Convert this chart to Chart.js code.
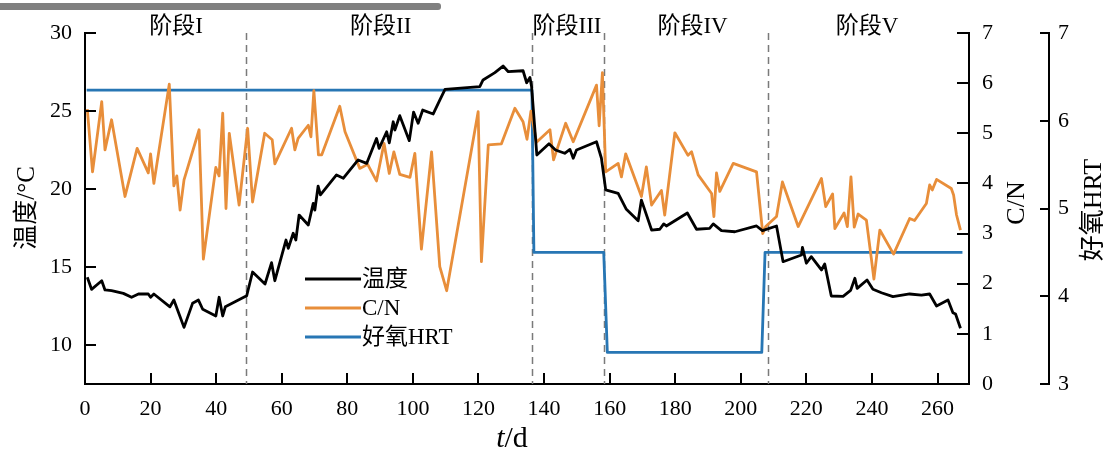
<!DOCTYPE html>
<html>
<head>
<meta charset="utf-8">
<script src="https://cdn.jsdelivr.net/npm/chart.js@4.4.0/dist/chart.umd.min.js"></script>
<style>
html,body{margin:0;padding:0;background:#fff;}
#wrap{width:1114px;height:455px;position:relative;}
</style>
</head>
<body>
<div id="wrap"><canvas id="c" width="1114" height="455"></canvas></div>
<script>
// ---------------- data ----------------
const tempDays = [0.7,2.0,5.1,6.1,8.1,11.7,14.2,16.3,19.3,20.0,21.0,25.9,27.1,28.8,30.2,32.8,34.6,35.9,39.9,40.9,42.0,42.8,49.3,51.1,54.9,56.9,57.9,61.3,62.0,63.5,64.3,65.3,68.1,69.6,70.1,71.1,71.8,76.7,78.8,83.3,85.9,88.9,89.7,92.0,92.8,94.0,94.5,96.0,98.9,100.2,101.6,103.0,106.2,108.2,109.8,120.4,121.4,125.0,127.5,129.1,133.6,134.7,135.7,136.2,137.8,141.5,143.5,146.3,147.9,148.9,149.9,156.0,157.5,158.8,162.6,165.1,168.7,169.7,172.8,175.3,176.5,177.3,179.4,183.7,186.5,190.5,191.6,194.1,198.2,204.8,206.6,210.9,212.9,218.5,218.8,220.0,221.5,224.6,225.6,227.6,231.2,233.5,234.8,235.5,238.5,240.3,242.9,246.4,251.5,255.1,257.6,259.7,263.2,264.7,265.5,267.0];
const tempValues = [14.34,13.57,14.12,13.53,13.48,13.31,13.06,13.27,13.27,13.06,13.27,12.45,12.88,11.92,11.13,12.67,12.88,12.29,11.86,13.06,11.86,12.45,13.15,14.68,13.91,15.28,14.12,16.73,16.2,17.16,16.73,18.33,17.69,19.08,18.65,20.19,19.62,20.9,20.69,21.86,21.64,23.24,22.6,23.67,22.96,24.31,23.78,24.7,23.1,24.93,24.21,25.06,24.81,25.7,26.39,26.56,26.99,27.46,27.88,27.52,27.58,26.81,27.15,26.56,22.18,22.9,22.5,22.29,22.54,21.97,22.5,23.03,21.97,19.94,19.72,18.7,17.97,19.29,17.37,17.42,17.76,17.63,17.9,18.46,17.42,17.48,17.76,17.33,17.26,17.63,17.33,17.63,15.34,15.77,16.26,15.24,15.66,14.81,15.19,13.14,13.12,13.5,14.28,13.63,14.17,13.57,13.35,13.1,13.27,13.2,13.27,12.5,12.88,12.07,11.99,11.07];

const cnDays = [0.7,2.3,5.1,6.1,8.1,12.2,15.9,19.3,20.0,21.0,25.7,27.1,28.0,29.0,30.2,34.8,36.1,39.9,40.9,42.0,43.0,44.0,47.0,49.6,51.1,54.8,57.1,57.9,63.0,64.0,65.0,68.1,68.9,69.8,71.2,72.2,77.7,79.3,83.8,86.2,88.9,91.2,92.8,94.2,96.0,99.1,100.6,102.6,105.7,108.2,110.3,119.9,120.9,123.0,127.0,131.1,133.6,134.8,136.0,137.7,141.8,142.9,146.6,148.9,156.0,156.8,157.8,158.8,162.6,163.6,164.9,169.7,171.2,172.8,175.8,176.8,179.9,183.9,185.0,187.0,191.1,191.8,192.6,193.6,197.7,204.8,206.7,207.6,210.9,212.7,217.5,224.6,225.9,228.0,228.7,231.5,232.5,233.6,234.6,235.8,238.3,239.8,240.6,242.4,246.6,251.5,253.0,256.6,257.6,258.4,259.7,264.2,264.9,265.8,267.0];
const cnValues = [5.48,4.23,5.63,4.67,5.27,3.74,4.7,4.21,4.59,4.0,5.98,3.95,4.15,3.47,4.07,5.07,2.49,4.32,4.15,5.4,3.5,5.0,3.57,5.1,3.63,5.0,4.87,4.39,5.1,4.67,4.9,5.16,4.93,5.85,4.57,4.57,5.54,5.03,4.3,4.38,4.05,4.8,4.2,4.63,4.18,4.12,4.6,2.69,4.63,2.34,1.86,5.43,2.44,4.77,4.79,5.5,5.23,4.88,5.44,4.82,5.07,4.47,5.2,4.83,5.96,5.15,6.21,4.23,4.4,4.13,4.59,3.74,4.33,3.57,3.86,3.37,5.01,4.56,4.63,4.17,3.8,3.34,4.21,3.84,4.4,4.23,3.0,3.14,3.34,4.03,3.14,4.1,3.54,3.79,3.1,3.41,3.14,4.13,3.13,3.39,3.27,2.51,2.09,3.07,2.59,3.3,3.26,3.6,3.97,3.87,4.08,3.9,3.77,3.37,3.07];

const hrtDays = [0.5,136.3,136.9,158.2,159.3,206.4,207.4,267.6];
const hrtValues = [6.35,6.35,4.5,4.5,3.36,3.36,4.5,4.5];

const xTicks = [0,20,40,60,80,100,120,140,160,180,200,220,240,260];
const tempTicks = [10,15,20,25,30];
const cnTicks = [0,1,2,3,4,5,6,7];
const hrtTicks = [3,4,5,6,7];

const stageBoundaries = [49.2,136.3,158.2,208.3];
const stageLabels = ['阶段I','阶段II','阶段III','阶段IV','阶段V'];
const stageCenters = [27.8,90.2,147.0,185.3,238.5];

const seriesLabels = ['温度','C/N','好氧HRT'];
const seriesColors = ['#000000','#E88E3A','#2776B4'];

// ---------------- drawing ----------------
const FONT = "'Liberation Serif', 'Noto Sans CJK SC', serif";
const pts = (xs, ys) => xs.map((x, i) => ({x: x, y: ys[i]}));
const setTicks = arr => s => { s.ticks = arr.map(v => ({value: v})); };

function vtext(ctx, txt, x, y, font) {
  ctx.save();
  ctx.translate(x, y);
  ctx.rotate(-Math.PI / 2);
  ctx.font = font;
  ctx.textAlign = 'center';
  ctx.textBaseline = 'middle';
  ctx.fillStyle = '#000';
  ctx.fillText(txt, 0, 0);
  ctx.restore();
}

const deco = {
  id: 'deco',
  beforeDatasetsDraw(chart) {
    const {ctx, chartArea: a, scales} = chart;
    ctx.save();
    ctx.strokeStyle = '#7a7a7a';
    ctx.lineWidth = 1.5;
    ctx.setLineDash([7, 5]);
    stageBoundaries.forEach(d => {
      const x = Math.round(scales.x.getPixelForValue(d)) + 0.5;
      ctx.beginPath();
      ctx.moveTo(x, a.top);
      ctx.lineTo(x, a.bottom);
      ctx.stroke();
    });
    ctx.restore();
  },
  afterDraw(chart) {
    const {ctx, chartArea: a, scales} = chart;
    ctx.save();
    // cropped grey bar at top of the picture
    ctx.fillStyle = '#808080';
    ctx.beginPath();
    ctx.roundRect(-10, 3, 451, 7, 3);
    ctx.fill();

    // inward tick marks
    ctx.strokeStyle = '#000';
    ctx.lineWidth = 2;
    ctx.setLineDash([]);
    const sx = scales.x, sy = scales.y, scn = scales.cn, shrt = scales.hrt;
    sx.ticks.forEach(t => {
      const x = Math.round(sx.getPixelForValue(t.value));
      ctx.beginPath(); ctx.moveTo(x, a.bottom); ctx.lineTo(x, a.bottom - 11); ctx.stroke();
    });
    sy.ticks.forEach(t => {
      const y = Math.round(sy.getPixelForValue(t.value));
      ctx.beginPath(); ctx.moveTo(a.left, y); ctx.lineTo(a.left + 11, y); ctx.stroke();
    });
    scn.ticks.forEach(t => {
      const y = Math.round(scn.getPixelForValue(t.value));
      ctx.beginPath(); ctx.moveTo(a.right, y); ctx.lineTo(a.right - 12, y); ctx.stroke();
    });
    shrt.ticks.forEach(t => {
      const y = Math.round(shrt.getPixelForValue(t.value));
      ctx.beginPath(); ctx.moveTo(shrt.left, y); ctx.lineTo(shrt.left - 9, y); ctx.stroke();
    });

    // stage labels
    ctx.fillStyle = '#000';
    ctx.font = '23px ' + FONT;
    ctx.textAlign = 'center';
    ctx.textBaseline = 'middle';
    stageLabels.forEach((s, i) => {
      ctx.fillText(s, sx.getPixelForValue(stageCenters[i]), a.top - 6);
    });

    // axis titles
    vtext(ctx, '温度/°C', 27, 208, '25px ' + FONT);
    vtext(ctx, 'C/N', 1017, 203, '26px ' + FONT);
    vtext(ctx, '好氧HRT', 1094, 210, '26px ' + FONT);

    // x title  t/d  (italic t)
    const fi = 'italic 30px ' + FONT, fn = '30px ' + FONT;
    ctx.font = fi; const wt = ctx.measureText('t').width;
    ctx.font = fn; const wr = ctx.measureText('/d').width;
    const x0 = 512 - (wt + wr) / 2;
    ctx.textAlign = 'left';
    ctx.textBaseline = 'middle';
    ctx.font = fi; ctx.fillText('t', x0, 439);
    ctx.font = fn; ctx.fillText('/d', x0 + wt, 439);

    // legend
    const ly = [279, 308, 337];
    ctx.font = '23px ' + FONT;
    ctx.textBaseline = 'middle';
    chart.data.datasets.forEach((ds, i) => {
      ctx.strokeStyle = ds.borderColor;
      ctx.lineWidth = 2.8;
      ctx.beginPath(); ctx.moveTo(305, ly[i]); ctx.lineTo(361, ly[i]); ctx.stroke();
      ctx.fillStyle = '#000';
      ctx.fillText(ds.label, 362, ly[i] + 1);
    });
    ctx.restore();
  }
};

const tickFont = {family: FONT, size: 22};
const baseAxis = {
  grid: {display: false, drawTicks: false},
  border: {display: true, color: '#000', width: 2},
};

new Chart(document.getElementById('c'), {
  type: 'line',
  data: {
    datasets: [
      {label: seriesLabels[0], data: pts(tempDays, tempValues), yAxisID: 'y', borderColor: seriesColors[0], borderWidth: 2.8, order: 0},
      {label: seriesLabels[1], data: pts(cnDays, cnValues), yAxisID: 'cn', borderColor: seriesColors[1], borderWidth: 2.8, order: 1},
      {label: seriesLabels[2], data: pts(hrtDays, hrtValues), yAxisID: 'hrt', borderColor: seriesColors[2], borderWidth: 2.8, order: 2}
    ]
  },
  options: {
    responsive: false,
    animation: false,
    layout: {padding: {top: 33, left: 0, right: 0, bottom: 0}},
    elements: {point: {radius: 0}, line: {tension: 0, borderJoinStyle: 'round'}},
    plugins: {legend: {display: false}, tooltip: {enabled: false}},
    scales: {
      x: Object.assign({}, baseAxis, {
        type: 'linear', position: 'bottom', min: 0, max: 269.6,
        afterBuildTicks: setTicks(xTicks),
        afterFit: s => { s.height = 71; },
        ticks: {font: tickFont, color: '#000', padding: 12, maxRotation: 0, autoSkip: false}
      }),
      y: Object.assign({}, baseAxis, {
        type: 'linear', position: 'left', min: 7.5, max: 30,
        afterBuildTicks: setTicks(tempTicks),
        afterFit: s => { s.width = 85; },
        ticks: {font: tickFont, color: '#000', padding: 13, autoSkip: false}
      }),
      cn: Object.assign({}, baseAxis, {
        type: 'linear', position: 'right', min: 0, max: 7,
        afterBuildTicks: setTicks(cnTicks),
        afterFit: s => { s.width = 80; },
        ticks: {font: tickFont, color: '#000', padding: 13, autoSkip: false}
      }),
      hrt: Object.assign({}, baseAxis, {
        type: 'linear', position: 'right', min: 3, max: 7,
        afterBuildTicks: setTicks(hrtTicks),
        afterFit: s => { s.width = 65; },
        ticks: {font: tickFont, color: '#000', padding: 9, autoSkip: false}
      })
    }
  },
  plugins: [deco]
});
</script>
</body>
</html>
